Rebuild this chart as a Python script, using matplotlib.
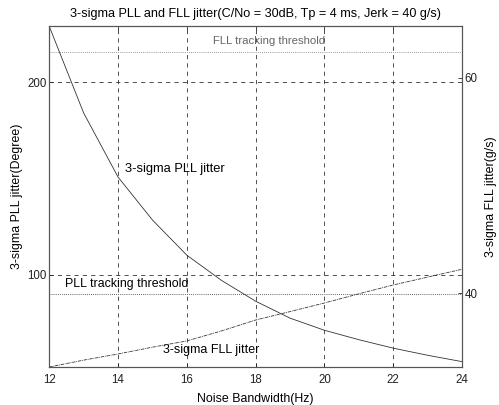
import matplotlib
matplotlib.use("Agg")
import matplotlib.pyplot as plt

plt.rcParams['font.family'] = ['Liberation Sans', 'DejaVu Sans']

# noise bandwidth (Hz)
bandwidth = [12, 13, 14, 15, 16, 17, 18, 19, 20, 21, 22, 23, 24]
# 3-sigma PLL jitter (degree), left axis
pll_jitter = [229.0, 184.0, 150.7, 128.4, 110.1, 97.1, 86.2, 77.4, 71.1, 66.2, 61.8, 58.1, 54.8]
# 3-sigma FLL jitter (g/s), right axis
fll_jitter = [33.16, 33.8, 34.37, 35.0, 35.58, 36.5, 37.52, 38.3, 39.1, 39.95, 40.77, 41.5, 42.23]
pll_threshold = 90
fll_threshold = 62.36

xticks = [12, 14, 16, 18, 20, 22, 24]
left_ticks = [100, 200]
right_ticks = [40, 60]

line_col = "#333333"
fig = plt.figure(figsize=(4.99, 4.05), dpi=100)
ax = fig.add_axes([0.0988, 0.0938, 0.8271, 0.8427])
ax2 = ax.twinx()

ax.plot(bandwidth, pll_jitter, color=line_col, lw=0.6)
ax.axhline(pll_threshold, color=line_col, lw=0.6, ls=(0, (1, 1.5)))
ax2.plot(bandwidth, fll_jitter, color=line_col, lw=0.6, ls=(0, (4, 1, 1, 1)))
ax2.axhline(fll_threshold, color="#777777", lw=0.6, ls=(0, (1, 1.5)))

ax.set_xlim(12, 24)
ax.set_ylim(52, 229.4)
ax2.set_ylim(33.16, 64.82)
ax.set_xticks(xticks)
ax.set_yticks(left_ticks)
ax2.set_yticks(right_ticks)

ax.grid(True, color="#333333", lw=0.6, ls=(0, (5, 5)))
for a in (ax, ax2):
    a.tick_params(direction="in", length=3, width=0.6, labelsize=8.3, colors="#222222")
    for s in a.spines.values():
        s.set_linewidth(0.8)
        s.set_color("#555555")
ax.tick_params(axis="x", top=True, pad=5)
ax.tick_params(axis="y", pad=2)
ax2.tick_params(axis="y", pad=2)

ax.text(14.2, 154.9, "3-sigma PLL jitter", fontsize=9.3, va="center")
ax.text(16.76, 221.5, "FLL tracking threshold", fontsize=8.2, va="center", color="#666666")
ax.text(12.46, 95.1, "PLL tracking threshold", fontsize=8.9, va="center")
ax.text(15.31, 60.7, "3-sigma FLL jitter", fontsize=9.0, va="center")

ax.set_title("3-sigma PLL and FLL jitter(C/No = 30dB, Tp = 4 ms, Jerk = 40 g/s)", fontsize=9.1, pad=6)
ax.set_xlabel("Noise Bandwidth(Hz)", fontsize=8.9, labelpad=5)
ax.set_ylabel("3-sigma PLL jitter(Degree)", fontsize=8.9, labelpad=3)
ax2.set_ylabel("3-sigma FLL jitter(g/s)", fontsize=8.9, labelpad=5)

fig.savefig("out.png", dpi=100)
